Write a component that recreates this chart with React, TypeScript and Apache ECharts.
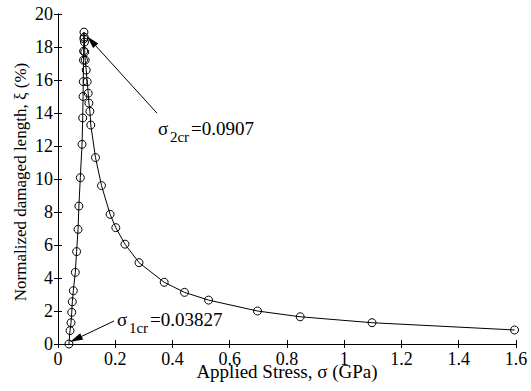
import React, { useEffect, useRef } from "react";
import * as echarts from "echarts";

const stress = [
  0.0383, 0.042, 0.0455, 0.048, 0.05, 0.0535, 0.0605, 0.065, 0.07, 0.073, 0.078, 0.084,
  0.0863, 0.0876, 0.0883, 0.089, 0.0895, 0.0903, 0.0907,
  0.0915, 0.0925, 0.0935, 0.095, 0.0985, 0.102, 0.1055, 0.108, 0.1115, 0.1145,
  0.131, 0.152, 0.182, 0.202, 0.234, 0.283, 0.371, 0.442, 0.526, 0.697, 0.846, 1.097, 1.595,
];
const xi = [
  0, 0.81, 1.29, 1.92, 2.56, 3.23, 4.34, 5.6, 6.95, 8.36, 10.08, 12.1,
  13.7, 15.0, 15.9, 17.2, 17.75, 18.5, 18.9,
  18.6, 18.3, 17.7, 17.2, 16.6, 15.9, 15.2, 14.6, 14.1, 13.27,
  11.3, 9.6, 7.86, 7.05, 6.05, 4.93, 3.74, 3.13, 2.66, 2.0, 1.65, 1.29, 0.85,
];
const xTicks = { min: 0, max: 1.6, interval: 0.2 };
const yTicks = { min: 0, max: 20, interval: 2 };
const xTitle = "Applied Stress, σ (GPa)";
const yTitle = "Normalized damaged length, ξ (%)";
const sigma1cr = { x: 0.03827, y: 0, label: "=0.03827", sub: "1cr" };
const sigma2cr = { x: 0.0907, y: 18.9, label: "=0.0907", sub: "2cr" };

const FONT = "Liberation Serif";

function arrowGraphics(tip: number[], tail: number[]) {
  const dx = tail[0] - tip[0];
  const dy = tail[1] - tip[1];
  const len = Math.sqrt(dx * dx + dy * dy);
  const ux = dx / len;
  const uy = dy / len;
  const hl = 13;
  const hw = 3.5;
  const bx = tip[0] + ux * hl;
  const by = tip[1] + uy * hl;
  return [
    {
      type: "line",
      shape: { x1: bx, y1: by, x2: tail[0], y2: tail[1] },
      style: { stroke: "#000", lineWidth: 1 },
      silent: true,
    },
    {
      type: "polygon",
      shape: {
        points: [
          [tip[0], tip[1]],
          [bx - uy * hw, by + ux * hw],
          [bx + uy * hw, by - ux * hw],
        ],
      },
      style: { fill: "#000" },
      silent: true,
    },
  ];
}

function labelGraphics(x: number, y: number, sub: string, rest: string) {
  const t = (tx: number, ty: number, text: string, size: number) => ({
    type: "text",
    x: tx,
    y: ty,
    style: { text, fontFamily: FONT, fontSize: size, fill: "#000", verticalAlign: "middle" },
  });
  return [t(x, y, "σ", 19), t(x + 12, y + 9, sub, 15), t(x + 33, y, rest, 19)];
}

export default function App() {
  const ref = useRef<HTMLDivElement>(null);
  useEffect(() => {
    if (!ref.current) return;
    const chart = echarts.init(ref.current, null, { renderer: "svg" });
    const data = stress.map((s, i) => [s, xi[i]]);
    const line = { show: true, lineStyle: { color: "#000", width: 1 } };
    const tick = { show: true, inside: true, length: 4, lineStyle: { color: "#000" } };
    const labelStyle = { show: true, color: "#000", fontFamily: FONT, fontSize: 18 };
    chart.setOption({
      animation: false,
      backgroundColor: "#fff",
      grid: { left: 58, right: 15, top: 14, bottom: 47, outerBoundsMode: "none", containLabel: false },
      xAxis: [
        {
          type: "value",
          min: xTicks.min,
          max: xTicks.max,
          interval: xTicks.interval,
          position: "bottom",
          axisLine: line,
          axisTick: tick,
          splitLine: { show: false },
          axisLabel: { ...labelStyle, margin: 6 },
        },
        {
          type: "value",
          min: xTicks.min,
          max: xTicks.max,
          interval: xTicks.interval,
          position: "top",
          axisLine: line,
          axisTick: tick,
          splitLine: { show: false },
          axisLabel: { show: false },
        },
      ],
      yAxis: [
        {
          type: "value",
          min: yTicks.min,
          max: yTicks.max,
          interval: yTicks.interval,
          position: "left",
          axisLine: line,
          axisTick: tick,
          splitLine: { show: false },
          axisLabel: { ...labelStyle, margin: 5 },
        },
        {
          type: "value",
          min: yTicks.min,
          max: yTicks.max,
          interval: yTicks.interval,
          position: "right",
          axisLine: line,
          axisTick: tick,
          splitLine: { show: false },
          axisLabel: { show: false },
        },
      ],
      series: [
        {
          type: "line",
          data,
          xAxisIndex: 0,
          yAxisIndex: 0,
          symbol: "circle",
          symbolSize: 8,
          lineStyle: { color: "#000", width: 1 },
          itemStyle: { color: "rgba(0,0,0,0)", borderColor: "#000", borderWidth: 1 },
        },
      ],
    });
    const p1 = chart.convertToPixel({ seriesIndex: 0 }, [sigma1cr.x, sigma1cr.y]) as number[];
    const p2 = chart.convertToPixel({ seriesIndex: 0 }, [sigma2cr.x, sigma2cr.y]) as number[];
    const tip1 = [p1[0] + 1, p1[1] - 2];
    const tail1 = [tip1[0] + 44, tip1[1] - 21];
    const tip2 = [p2[0] + 3, p2[1] + 4];
    const tail2 = [tip2[0] + 70, tip2[1] + 77];
    chart.setOption({
      graphic: [
        ...arrowGraphics(tip1, tail1),
        ...arrowGraphics(tip2, tail2),
        ...labelGraphics(tail1[0] + 3, tail1[1] - 2, sigma1cr.sub, sigma1cr.label),
        ...labelGraphics(tail2[0] + 1, tail2[1] + 15, sigma2cr.sub, sigma2cr.label),
        {
          type: "text",
          x: 287,
          y: 371,
          style: {
            text: xTitle,
            fontFamily: FONT,
            fontSize: 19,
            fill: "#000",
            align: "center",
            verticalAlign: "middle",
          },
        },
        {
          type: "text",
          x: 20,
          y: 182,
          rotation: Math.PI / 2,
          style: {
            text: yTitle,
            fontFamily: FONT,
            fontSize: 17,
            fill: "#000",
            align: "center",
            verticalAlign: "middle",
          },
        },
      ],
    });
    return () => chart.dispose();
  }, []);
  return <div ref={ref} style={{ width: 531, height: 391, position: "absolute", left: 0, top: 0 }} />;
}
